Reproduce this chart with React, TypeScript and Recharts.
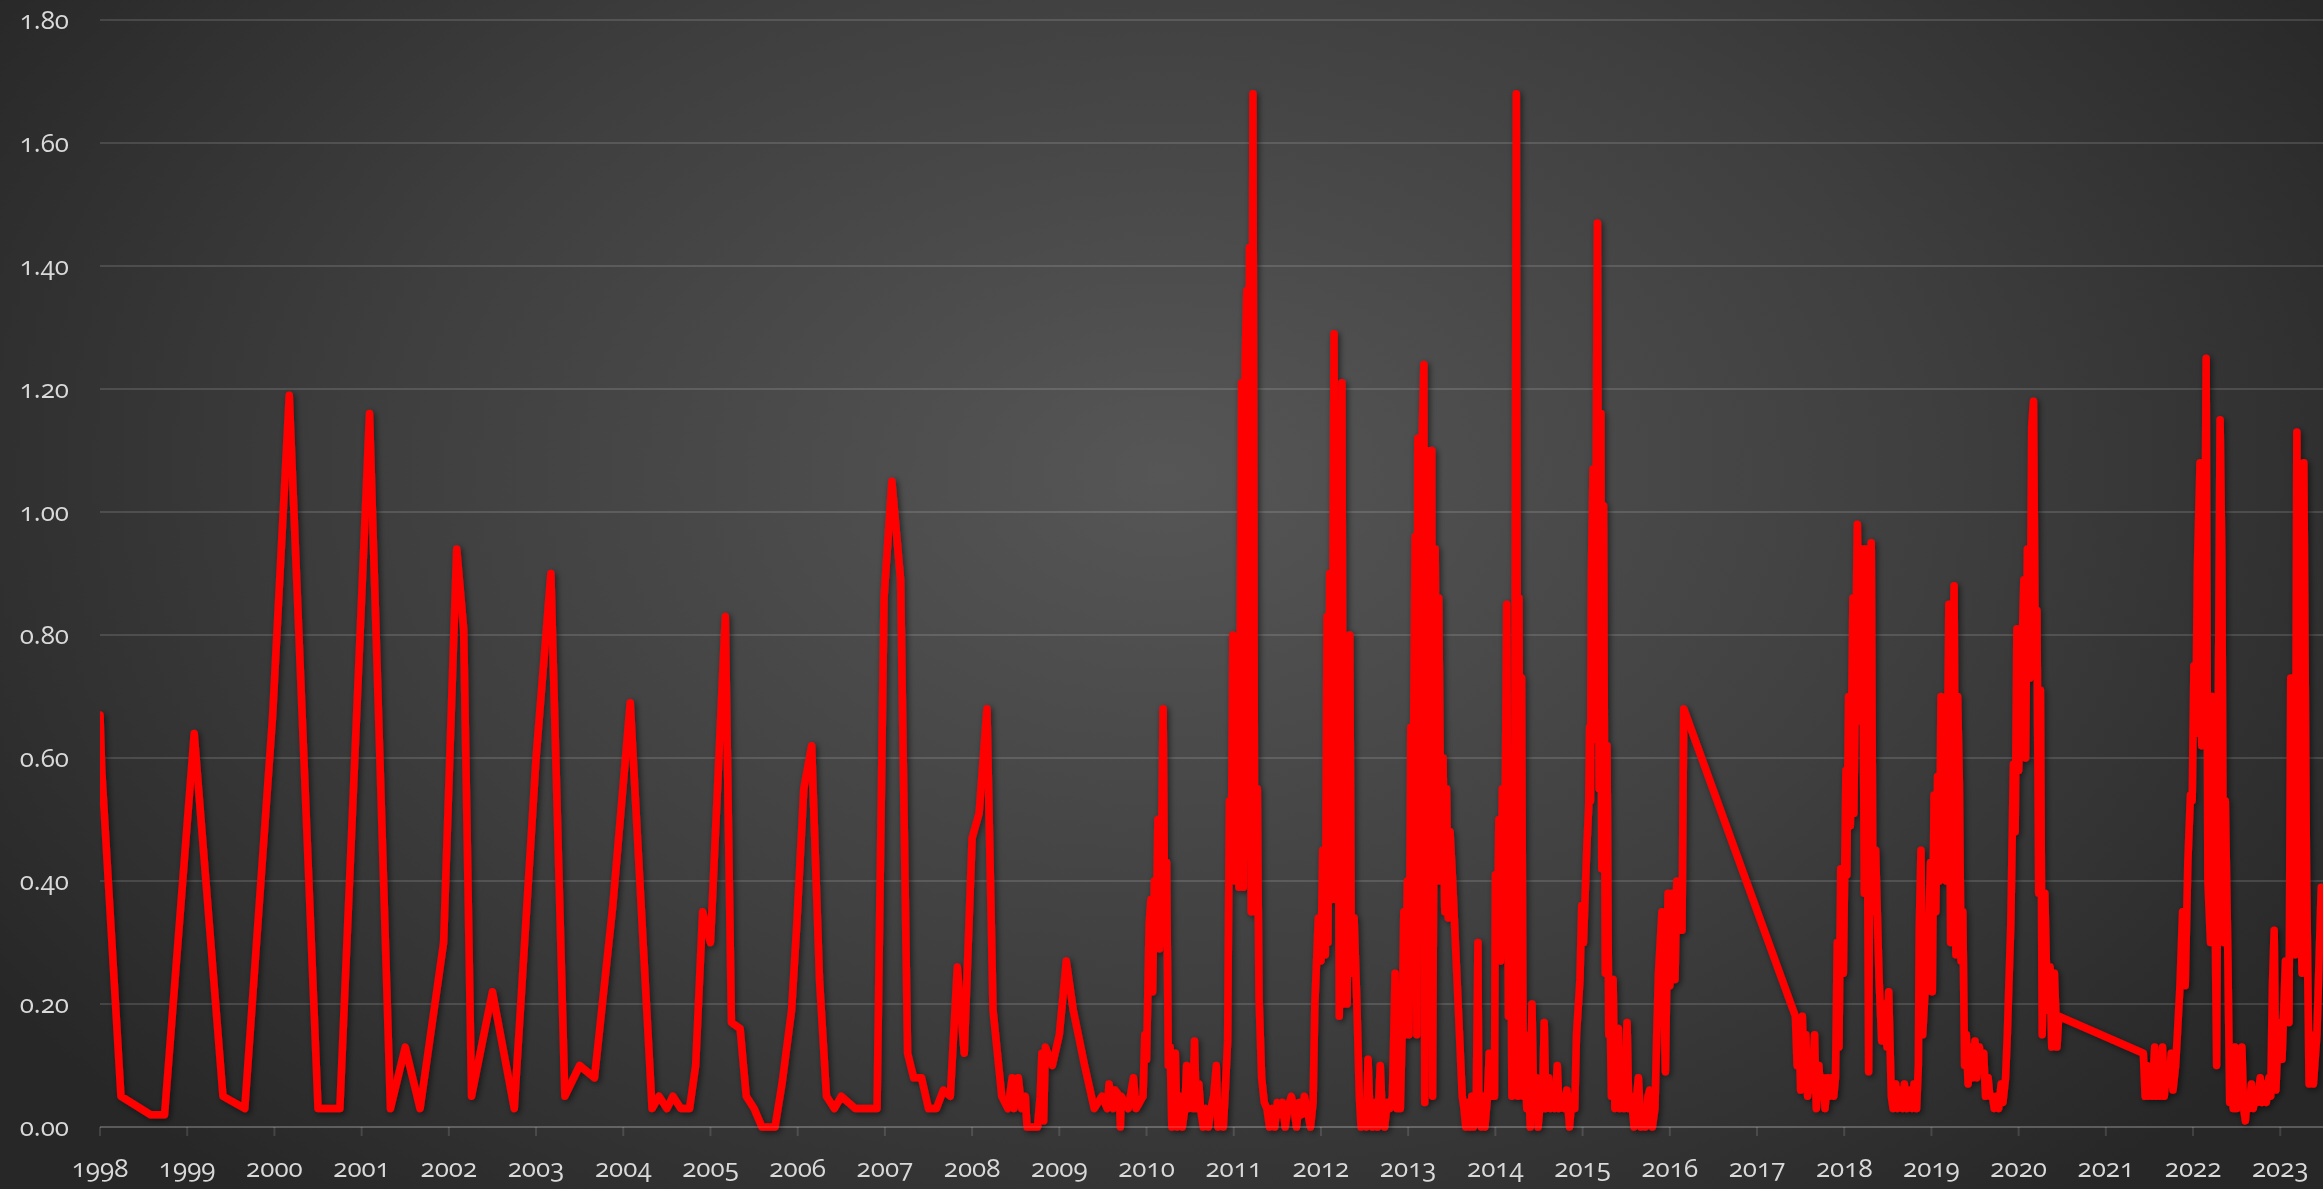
import React from 'react';
import { LineChart, Line, XAxis, YAxis, CartesianGrid } from 'recharts';

type Point = [number, number];

// tick labels
const yearTicks = [
  1998, 1999, 2000, 2001, 2002, 2003, 2004, 2005, 2006, 2007, 2008, 2009, 2010,
  2011, 2012, 2013, 2014, 2015, 2016, 2017, 2018, 2019, 2020, 2021, 2022, 2023,
];
const valueTicks = [0, 0.2, 0.4, 0.6, 0.8, 1.0, 1.2, 1.4, 1.6, 1.8];

// readings as [decimal year, value], split by period
const period1998to2003: Point[] = [
  [1998.0, 0.67], [1998.02, 0.58], [1998.24, 0.05], [1998.58, 0.02], [1998.74, 0.02],
  [1999.08, 0.64], [1999.41, 0.05], [1999.66, 0.03], [1999.98, 0.67], [2000.17, 1.19],
  [2000.5, 0.03], [2000.75, 0.03], [2001.09, 1.16], [2001.33, 0.03], [2001.5, 0.13],
  [2001.67, 0.03], [2001.94, 0.3], [2002.09, 0.94], [2002.17, 0.81], [2002.26, 0.05],
  [2002.5, 0.22], [2002.75, 0.03], [2003.0, 0.6], [2003.17, 0.9], [2003.33, 0.05],
  [2003.5, 0.1], [2003.67, 0.08], [2003.88, 0.36],
];

const period2004to2009: Point[] = [
  [2004.08, 0.69], [2004.33, 0.03], [2004.41, 0.05], [2004.5, 0.03], [2004.57, 0.05],
  [2004.66, 0.03], [2004.76, 0.03], [2004.83, 0.1], [2004.91, 0.35], [2005.0, 0.3],
  [2005.17, 0.83], [2005.24, 0.17], [2005.34, 0.16], [2005.41, 0.05], [2005.5, 0.03],
  [2005.59, 0.0], [2005.74, 0.0], [2005.82, 0.07], [2005.93, 0.19], [2005.99, 0.33],
  [2006.07, 0.55], [2006.16, 0.62], [2006.25, 0.24], [2006.33, 0.05], [2006.42, 0.03],
  [2006.5, 0.05], [2006.66, 0.03], [2006.91, 0.03], [2006.99, 0.86], [2007.08, 1.05],
  [2007.18, 0.89], [2007.26, 0.12], [2007.33, 0.08], [2007.42, 0.08], [2007.5, 0.03],
  [2007.59, 0.03], [2007.67, 0.06], [2007.75, 0.05], [2007.83, 0.26], [2007.91, 0.12],
  [2008.0, 0.47], [2008.08, 0.51], [2008.17, 0.68], [2008.24, 0.19], [2008.34, 0.05],
  [2008.41, 0.03], [2008.46, 0.08], [2008.48, 0.03], [2008.53, 0.08], [2008.57, 0.03],
  [2008.61, 0.05], [2008.63, 0.0], [2008.75, 0.0], [2008.78, 0.05], [2008.8, 0.12],
  [2008.82, 0.01], [2008.84, 0.13], [2008.92, 0.1], [2009.0, 0.15], [2009.08, 0.27],
  [2009.16, 0.19], [2009.29, 0.1], [2009.4, 0.03], [2009.49, 0.05], [2009.55, 0.03],
  [2009.57, 0.07], [2009.62, 0.03], [2009.64, 0.06], [2009.69, 0.05], [2009.7, 0.0],
  [2009.71, 0.05], [2009.79, 0.03], [2009.85, 0.08], [2009.88, 0.03], [2009.96, 0.05],
  [2009.98, 0.15],
];

const period2010to2012: Point[] = [
  [2010.0, 0.11], [2010.03, 0.33], [2010.05, 0.37], [2010.07, 0.22], [2010.09, 0.4],
  [2010.11, 0.3], [2010.13, 0.5], [2010.15, 0.29], [2010.17, 0.43], [2010.19, 0.68],
  [2010.21, 0.3], [2010.23, 0.43], [2010.25, 0.1], [2010.27, 0.13], [2010.29, 0.0],
  [2010.31, 0.06], [2010.33, 0.12], [2010.35, 0.0], [2010.38, 0.05], [2010.41, 0.0],
  [2010.44, 0.03], [2010.46, 0.1], [2010.48, 0.03], [2010.51, 0.05], [2010.53, 0.03],
  [2010.55, 0.14], [2010.57, 0.03], [2010.6, 0.07], [2010.62, 0.03], [2010.65, 0.0],
  [2010.68, 0.03], [2010.71, 0.0], [2010.74, 0.03], [2010.77, 0.05], [2010.8, 0.1],
  [2010.82, 0.0], [2010.85, 0.03], [2010.88, 0.0], [2010.9, 0.05],
  [2010.93, 0.14], [2010.95, 0.53], [2010.97, 0.4], [2010.99, 0.8], [2011.02, 0.4],
  [2011.04, 0.71], [2011.06, 0.39], [2011.09, 1.21], [2011.11, 0.39], [2011.13, 1.24],
  [2011.15, 1.36], [2011.16, 0.44], [2011.18, 1.43], [2011.2, 0.35], [2011.22, 1.68],
  [2011.24, 0.35], [2011.27, 0.55], [2011.29, 0.21], [2011.32, 0.08], [2011.35, 0.04],
  [2011.38, 0.03], [2011.41, 0.0], [2011.44, 0.03], [2011.47, 0.0], [2011.5, 0.04],
  [2011.53, 0.02], [2011.56, 0.04], [2011.59, 0.0], [2011.62, 0.03], [2011.66, 0.05],
  [2011.69, 0.03], [2011.72, 0.0], [2011.75, 0.04], [2011.78, 0.02], [2011.81, 0.05],
  [2011.84, 0.03], [2011.88, 0.0], [2011.91, 0.04],
  [2011.93, 0.2], [2011.97, 0.34], [2012.0, 0.27], [2012.02, 0.45], [2012.05, 0.28],
  [2012.07, 0.83], [2012.08, 0.3], [2012.1, 0.9], [2012.12, 0.37], [2012.15, 1.29],
  [2012.17, 0.37], [2012.19, 1.08], [2012.21, 0.18], [2012.24, 1.21], [2012.26, 0.2],
  [2012.28, 0.55], [2012.3, 0.2], [2012.33, 0.8], [2012.35, 0.25], [2012.38, 0.34],
  [2012.41, 0.21], [2012.44, 0.05], [2012.46, 0.0], [2012.49, 0.03], [2012.52, 0.0],
  [2012.54, 0.11], [2012.56, 0.03], [2012.59, 0.0], [2012.62, 0.04], [2012.65, 0.0],
  [2012.68, 0.1], [2012.7, 0.03], [2012.73, 0.0], [2012.76, 0.04], [2012.79, 0.03],
  [2012.82, 0.05], [2012.85, 0.25], [2012.87, 0.03], [2012.89, 0.06],
];

const period2013to2016: Point[] = [
  [2012.91, 0.03], [2012.93, 0.15], [2012.95, 0.35], [2012.97, 0.15], [2012.99, 0.4],
  [2013.01, 0.15], [2013.03, 0.65], [2013.05, 0.4], [2013.08, 0.96], [2013.1, 0.15],
  [2013.11, 1.12], [2013.14, 0.4], [2013.16, 1.12], [2013.18, 1.24], [2013.19, 0.04],
  [2013.22, 1.1], [2013.24, 0.4], [2013.27, 1.1], [2013.28, 0.05], [2013.31, 0.94],
  [2013.33, 0.4], [2013.35, 0.86], [2013.38, 0.4], [2013.4, 0.6], [2013.42, 0.35],
  [2013.44, 0.55], [2013.46, 0.34], [2013.48, 0.48], [2013.51, 0.4], [2013.62, 0.05],
  [2013.64, 0.03], [2013.66, 0.0], [2013.68, 0.04], [2013.71, 0.0], [2013.73, 0.05],
  [2013.75, 0.0], [2013.78, 0.03], [2013.8, 0.3], [2013.81, 0.03], [2013.84, 0.0],
  [2013.86, 0.05], [2013.88, 0.0], [2013.91, 0.05], [2013.93, 0.12], [2013.95, 0.05],
  [2013.97, 0.12], [2013.99, 0.05],
  [2014.0, 0.41], [2014.02, 0.27], [2014.04, 0.5], [2014.06, 0.27], [2014.08, 0.55],
  [2014.1, 0.3], [2014.13, 0.85], [2014.15, 0.18], [2014.17, 0.45], [2014.19, 0.05],
  [2014.22, 0.4], [2014.24, 1.68], [2014.26, 0.05], [2014.27, 0.86], [2014.29, 0.2],
  [2014.3, 0.73], [2014.32, 0.05], [2014.34, 0.15], [2014.36, 0.03], [2014.38, 0.08],
  [2014.4, 0.0], [2014.42, 0.2], [2014.44, 0.03], [2014.47, 0.08], [2014.49, 0.0],
  [2014.52, 0.05], [2014.54, 0.03], [2014.56, 0.17], [2014.58, 0.03], [2014.61, 0.08],
  [2014.63, 0.03], [2014.66, 0.05], [2014.68, 0.03], [2014.71, 0.1], [2014.73, 0.03],
  [2014.76, 0.05], [2014.79, 0.03], [2014.82, 0.06], [2014.85, 0.0], [2014.88, 0.05],
  [2014.91, 0.03],
  [2014.93, 0.15], [2014.97, 0.24], [2014.99, 0.36], [2015.01, 0.3], [2015.05, 0.46],
  [2015.07, 0.52], [2015.08, 0.65], [2015.09, 0.53], [2015.1, 0.89], [2015.12, 1.07],
  [2015.14, 0.63], [2015.17, 1.47], [2015.19, 0.55], [2015.21, 1.16], [2015.22, 0.42],
  [2015.24, 1.01], [2015.26, 0.25], [2015.28, 0.62], [2015.3, 0.15], [2015.31, 0.24],
  [2015.33, 0.05], [2015.35, 0.24], [2015.37, 0.03], [2015.39, 0.08], [2015.41, 0.16],
  [2015.43, 0.03], [2015.46, 0.1], [2015.48, 0.03], [2015.51, 0.17], [2015.53, 0.03],
  [2015.56, 0.05], [2015.59, 0.0], [2015.62, 0.05], [2015.64, 0.08], [2015.67, 0.0],
  [2015.7, 0.03], [2015.72, 0.0], [2015.75, 0.05], [2015.77, 0.06], [2015.8, 0.0],
  [2015.83, 0.03], [2015.85, 0.15], [2015.87, 0.25], [2015.91, 0.35], [2015.95, 0.09],
  [2015.98, 0.38], [2016.0, 0.23], [2016.03, 0.38], [2016.06, 0.24], [2016.08, 0.4],
  [2016.1, 0.32], [2016.14, 0.32], [2016.16, 0.68],
];

const period2017to2019: Point[] = [
  [2017.44, 0.18], [2017.46, 0.1], [2017.48, 0.17], [2017.5, 0.06], [2017.52, 0.18],
  [2017.54, 0.08], [2017.56, 0.15], [2017.58, 0.05], [2017.61, 0.12], [2017.63, 0.06],
  [2017.66, 0.15], [2017.68, 0.03], [2017.71, 0.1], [2017.73, 0.05], [2017.76, 0.08],
  [2017.78, 0.03], [2017.81, 0.08], [2017.83, 0.05], [2017.86, 0.08], [2017.88, 0.05],
  [2017.9, 0.08],
  [2017.92, 0.3], [2017.94, 0.13], [2017.96, 0.42], [2017.99, 0.25], [2018.02, 0.58],
  [2018.03, 0.41], [2018.05, 0.7], [2018.07, 0.49], [2018.1, 0.86], [2018.11, 0.51],
  [2018.15, 0.98], [2018.18, 0.66], [2018.21, 0.94], [2018.23, 0.38], [2018.25, 0.94],
  [2018.28, 0.09], [2018.31, 0.95], [2018.33, 0.35], [2018.36, 0.45], [2018.4, 0.24],
  [2018.43, 0.14], [2018.46, 0.2], [2018.49, 0.13], [2018.51, 0.22], [2018.54, 0.05],
  [2018.56, 0.03], [2018.59, 0.07], [2018.61, 0.03], [2018.64, 0.06], [2018.67, 0.03],
  [2018.69, 0.07], [2018.72, 0.03], [2018.75, 0.06], [2018.78, 0.03], [2018.8, 0.07],
  [2018.83, 0.03], [2018.85, 0.1],
  [2018.86, 0.32], [2018.88, 0.45], [2018.9, 0.15], [2018.93, 0.23], [2018.95, 0.22],
  [2018.97, 0.33], [2018.99, 0.43], [2019.01, 0.22], [2019.03, 0.54], [2019.05, 0.35],
  [2019.07, 0.57], [2019.09, 0.4], [2019.11, 0.7], [2019.13, 0.5], [2019.15, 0.59],
  [2019.17, 0.4], [2019.2, 0.85], [2019.22, 0.3], [2019.24, 0.7], [2019.26, 0.88],
  [2019.28, 0.28], [2019.3, 0.7], [2019.32, 0.56], [2019.34, 0.27], [2019.36, 0.35],
  [2019.38, 0.1], [2019.4, 0.15], [2019.42, 0.07], [2019.45, 0.13], [2019.47, 0.08],
  [2019.5, 0.14], [2019.52, 0.08], [2019.55, 0.13], [2019.57, 0.1], [2019.6, 0.12],
  [2019.62, 0.05], [2019.65, 0.08], [2019.67, 0.05], [2019.7, 0.05], [2019.72, 0.03],
  [2019.75, 0.05], [2019.77, 0.03], [2019.8, 0.07], [2019.82, 0.04], [2019.85, 0.08],
];

const period2020to2023: Point[] = [
  [2019.87, 0.15], [2019.91, 0.33], [2019.94, 0.59], [2019.96, 0.48], [2019.98, 0.81],
  [2020.0, 0.58], [2020.03, 0.73], [2020.06, 0.89], [2020.08, 0.6], [2020.1, 0.94],
  [2020.13, 0.73], [2020.15, 1.14], [2020.17, 1.18], [2020.19, 0.79], [2020.21, 0.84],
  [2020.23, 0.38], [2020.25, 0.71], [2020.27, 0.15], [2020.3, 0.38], [2020.33, 0.19],
  [2020.36, 0.26], [2020.38, 0.13], [2020.41, 0.25], [2020.44, 0.13], [2020.46, 0.18],
  [2021.43, 0.12], [2021.45, 0.05], [2021.47, 0.1], [2021.49, 0.05], [2021.51, 0.08],
  [2021.53, 0.05], [2021.56, 0.13], [2021.58, 0.05], [2021.6, 0.1], [2021.62, 0.05],
  [2021.65, 0.13], [2021.67, 0.05], [2021.7, 0.1], [2021.72, 0.07], [2021.75, 0.12],
  [2021.77, 0.06], [2021.8, 0.1],
  [2021.82, 0.15], [2021.85, 0.23], [2021.88, 0.35], [2021.91, 0.23], [2021.94, 0.43],
  [2021.97, 0.54], [2021.99, 0.53], [2022.01, 0.75], [2022.03, 0.64], [2022.05, 0.91],
  [2022.08, 1.08], [2022.1, 0.62], [2022.13, 0.78], [2022.15, 1.25], [2022.17, 0.4],
  [2022.2, 0.3], [2022.22, 0.7], [2022.24, 0.53], [2022.27, 0.1], [2022.29, 0.68],
  [2022.31, 1.15], [2022.33, 0.92], [2022.35, 0.3], [2022.37, 0.53], [2022.4, 0.27],
  [2022.42, 0.04], [2022.44, 0.08], [2022.46, 0.03], [2022.48, 0.13], [2022.5, 0.03],
  [2022.52, 0.1], [2022.54, 0.05], [2022.56, 0.13], [2022.58, 0.03], [2022.6, 0.01],
  [2022.62, 0.05], [2022.64, 0.03], [2022.67, 0.07], [2022.69, 0.03], [2022.72, 0.06],
  [2022.74, 0.04], [2022.77, 0.08], [2022.79, 0.04], [2022.82, 0.07], [2022.84, 0.04],
  [2022.87, 0.08], [2022.89, 0.05],
  [2022.91, 0.23], [2022.93, 0.32], [2022.95, 0.06], [2022.98, 0.17], [2023.02, 0.11],
  [2023.06, 0.27], [2023.1, 0.17], [2023.12, 0.73], [2023.15, 0.49], [2023.17, 0.28],
  [2023.19, 1.13], [2023.22, 0.43], [2023.25, 0.25], [2023.27, 1.08], [2023.3, 0.43],
  [2023.33, 0.07], [2023.35, 0.15], [2023.38, 0.07], [2023.42, 0.15], [2023.47, 0.39],
];

const chartData = [
  ...period1998to2003,
  ...period2004to2009,
  ...period2010to2012,
  ...period2013to2016,
  ...period2017to2019,
  ...period2020to2023,
].map(([year, value]) => ({ year, value }));

const axisColor = 'rgba(255,255,255,0.13)';
const labelStyle = {
  fill: '#d9d9d9',
  fontSize: 26,
  fontFamily: '"Open Sans", Lato, sans-serif',
  style: { fontVariantNumeric: 'oldstyle-nums' },
};

export default function App() {
  return (
    <div
      style={{
        position: 'fixed',
        left: 0,
        top: 0,
        width: 2323,
        height: 1189,
        background:
          'radial-gradient(ellipse 60% 80% at 50% 40%, #565656 0%, #3f3f3f 55%, #272727 100%)',
      }}
    >
      <LineChart
        width={2323}
        height={1189}
        data={chartData}
        margin={{ top: 20, right: 0, bottom: 0, left: 0 }}
      >
        <defs>
          <filter id="lineShadow" x="-2%" y="-5%" width="104%" height="110%">
            <feDropShadow dx="2" dy="2" stdDeviation="3" floodColor="#000" floodOpacity="0.55" />
          </filter>
        </defs>
        <CartesianGrid vertical={false} stroke={axisColor} strokeWidth={2} />
        <XAxis
          dataKey="year"
          type="number"
          domain={[1998, 2023.49]}
          ticks={yearTicks}
          interval={0}
          allowDataOverflow
          height={62}
          tickSize={9}
          tickMargin={23}
          axisLine={{ stroke: axisColor, strokeWidth: 2 }}
          tickLine={{ stroke: axisColor, strokeWidth: 2 }}
          tick={labelStyle}
        />
        <YAxis
          type="number"
          domain={[0, 1.8]}
          ticks={valueTicks}
          width={100}
          axisLine={false}
          tickLine={false}
          tickSize={0}
          tickMargin={31}
          tickFormatter={(v: number) => v.toFixed(2)}
          tick={labelStyle}
        />
        <Line
          dataKey="value"
          type="linear"
          stroke="#ff0000"
          strokeWidth={7.5}
          strokeLinejoin="round"
          strokeLinecap="round"
          dot={false}
          filter="url(#lineShadow)"
          isAnimationActive={false}
        />
      </LineChart>
    </div>
  );
}
